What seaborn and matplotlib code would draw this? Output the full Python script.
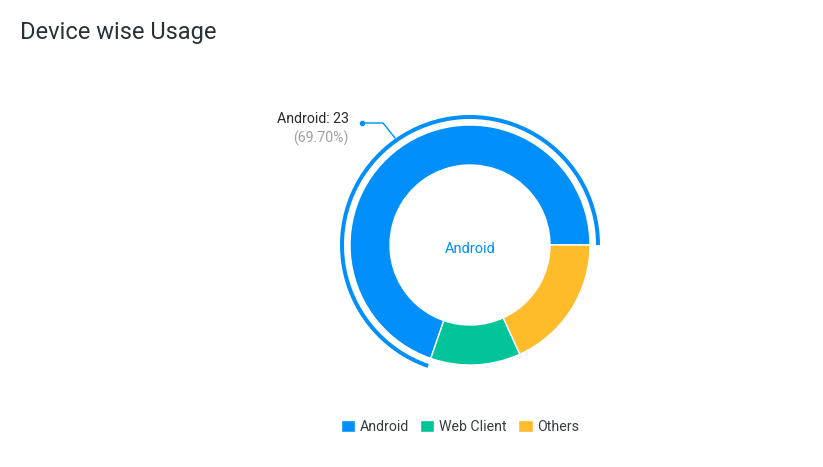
import matplotlib.pyplot as plt
import seaborn as sns

# device usage counts
devices = ["Android", "Web Client", "Others"]
counts = [23, 4, 6]
colors = ["#008FFB", "#00C49A", "#FEBB2A"]

W, H = 823, 467

sns.set_theme(style="white")
plt.rcParams["font.family"] = ["Roboto", "DejaVu Sans"]

fig = plt.figure(figsize=(W / 100, H / 100), dpi=100)
ax = fig.add_axes([0, 0, 1, 1])

cx, cy = 470, H - 245

wedges, _ = ax.pie(counts, colors=colors, startangle=0, counterclock=True,
                   center=(cx, cy), radius=120,
                   wedgeprops=dict(width=40, edgecolor="white", linewidth=1))

# hover ring around the active slice
ring, _ = ax.pie(counts, colors=[colors[0], "none", "none"], startangle=0,
                 counterclock=True, center=(cx, cy), radius=130,
                 wedgeprops=dict(width=4, linewidth=0))

ax.set_xlim(0, W)
ax.set_ylim(0, H)
ax.set_aspect("equal")
ax.axis("off")

# center label
ax.text(cx, H - 249, devices[0], color=colors[0], fontsize=10.5,
        ha="center", va="center")

# data label with leader line
pct = counts[0] / sum(counts) * 100
ax.plot([362, 383, 395], [H - 123, H - 123, H - 138], color=colors[0], lw=1)
ax.plot([362], [H - 123], marker="o", ms=3, color=colors[0])
ax.text(349, H - 119, f"{devices[0]}: {counts[0]}", color="#2b2b2b",
        fontsize=10.2, ha="right", va="center")
ax.text(349, H - 138, f"({pct:.2f}%)", color="#a0a0a0",
        fontsize=10.2, ha="right", va="center")

fig.text(20 / W, 1 - 33 / H, "Device wise Usage", fontsize=17,
         color="#263238", ha="left", va="center")

ax.legend(wedges, devices, loc="center", bbox_to_anchor=(460 / W, 1 - 427 / H),
          ncol=3, frameon=False, fontsize=10.2, handlelength=1.0,
          handleheight=0.85, handletextpad=0.35, columnspacing=0.8,
          labelcolor="#373d3f")

fig.savefig("out.png", dpi=100)
